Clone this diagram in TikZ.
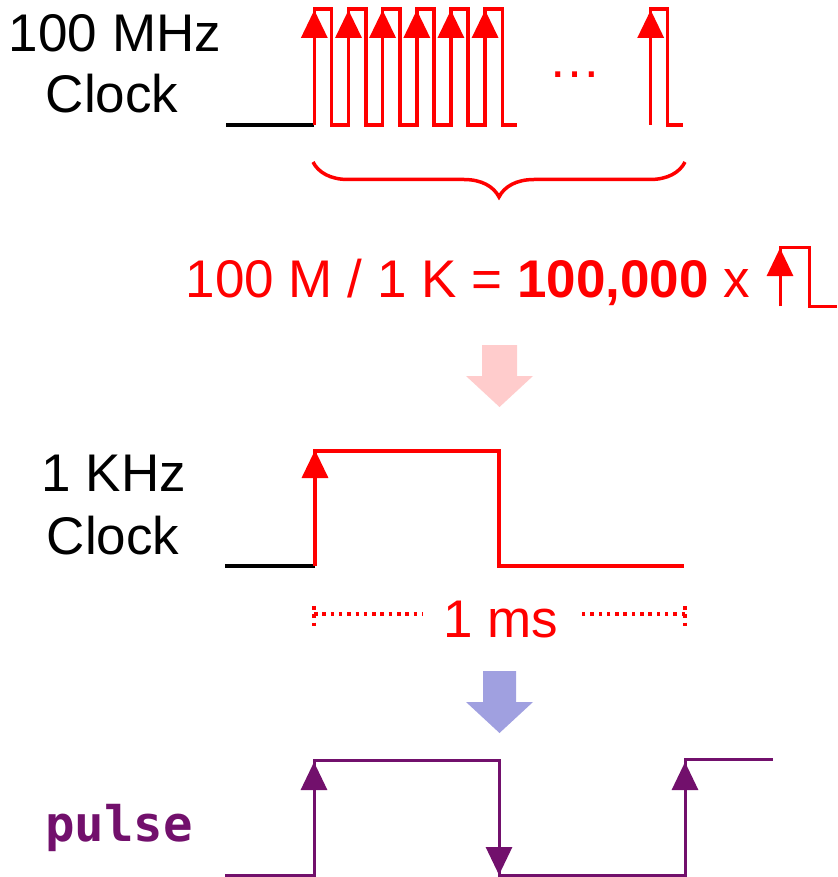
\documentclass[tikz,border=0pt]{standalone}
\usepackage{fontspec}
\setmainfont{Liberation Sans}
\newfontfamily\codefont{DejaVu Sans Mono}
\usepackage{tikz}
\usetikzlibrary{arrows.meta,decorations.pathreplacing}
\usepackage{xcolor}
\definecolor{pulsepurple}{RGB}{114,16,108}
\definecolor{pinkarrow}{RGB}{255,204,204}
\definecolor{bluearrow}{RGB}{160,160,224}

\begin{document}
\begin{tikzpicture}[x=1pt,y=-1pt,>={Triangle[length=28pt,width=26pt]},line width=3.5pt,
  lbl/.style={anchor=base,inner sep=0pt,font=\fontsize{53}{61}\selectfont},
  dots/.style={red,line width=3.5pt,dash pattern=on 3.5pt off 4.8pt}]
\useasboundingbox (0,0) rectangle (837,877);
% 100 MHz clock
\node[lbl] (mhz) at (115,52) {100 MHz};
\node[lbl] (mhzclk) at (112,113) {Clock};
\draw (226,125) -- (314.3,125);
\draw[red] (314.3,125) -- (314.3,9) -- (331.6,9) -- (331.6,125) -- (348.5,125) -- (348.5,9) -- (365.8,9) -- (365.8,125)
  -- (382.6,125) -- (382.6,9) -- (399.9,9) -- (399.9,125) -- (416.8,125) -- (416.8,9) -- (434.1,9) -- (434.1,125)
  -- (450.9,125) -- (450.9,9) -- (468.2,9) -- (468.2,125) -- (485.1,125) -- (485.1,9) -- (502.4,9) -- (502.4,125) -- (517,125);
\draw[red] (650.7,125) -- (650.7,9) -- (667.5,9) -- (667.5,125) -- (683,125);
\draw[red,->] (314.3,125) -- (314.3,10);
\draw[red,->] (348.5,125) -- (348.5,10);
\draw[red,->] (382.6,125) -- (382.6,10);
\draw[red,->] (416.8,125) -- (416.8,10);
\draw[red,->] (450.9,125) -- (450.9,10);
\draw[red,->] (485.1,125) -- (485.1,10);
\draw[red,->] (650.7,125) -- (650.7,10);
\node[lbl,red] (more) at (575,78) {…};
\draw[red,decorate,decoration={brace,mirror,amplitude=35pt}] (313,162) -- (685,162);
% ratio
\node[lbl,anchor=base west,red] (ratio) at (184,297) {100 M / 1 K = \textbf{100,000} x};
\draw[red,line width=3pt] (780,306) -- (780,247) -- (809,247) -- (809,306) -- (837,306);
\draw[red,line width=3pt,->] (780,306) -- (780,248);
\fill[pinkarrow] (482,345) -- (517,345) -- (517,376) -- (533,376) -- (499.5,407) -- (466,376) -- (482,376) -- cycle;
% 1 KHz clock
\node[lbl] (khz) at (114,491) {1 KHz};
\node[lbl] (khzclk) at (113,554) {Clock};
\draw (225,566) -- (315,566);
\draw[red] (315,566) -- (315,451) -- (499,451) -- (499,566) -- (684,566);
\draw[red,->] (315,566) -- (315,450);
\draw[dots] (314,606) -- (314,626);
\draw[dots] (314,614) -- (422,614);
\draw[dots] (685,606) -- (685,626);
\draw[dots] (685,614) -- (578,614);
\node[lbl,red] (period) at (501,637) {1 ms};
\fill[bluearrow] (483,671) -- (516,671) -- (516,702) -- (533,702) -- (499.5,733) -- (466,702) -- (483,702) -- cycle;
% pulse
\node[lbl,pulsepurple,font=\fontsize{49}{58}\codefont\bfseries] (pulse) at (119,841) {pulse};
\draw[pulsepurple,line width=3pt] (225,875) -- (314,875) -- (314,760) -- (499,760) -- (499,875) -- (685,875) -- (685,759) -- (773,759);
\draw[pulsepurple,line width=3pt,->] (314,875) -- (314,762);
\draw[pulsepurple,line width=3pt,->] (499,760) -- (499,875);
\draw[pulsepurple,line width=3pt,->] (685,875) -- (685,762);
\end{tikzpicture}
\end{document}
